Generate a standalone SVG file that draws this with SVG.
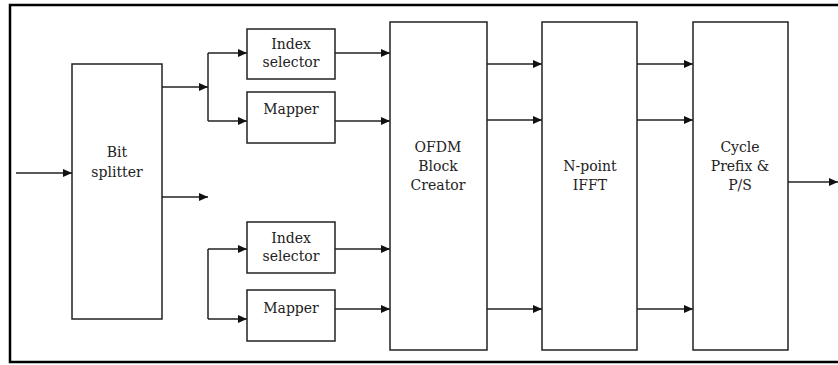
<svg xmlns="http://www.w3.org/2000/svg" width="838" height="365" viewBox="0 0 838 365">
<style>
.b{fill:#fff;stroke:#222;stroke-width:1.5}
.t{font-family:"DejaVu Serif","Liberation Serif",serif;font-size:14px;fill:#222;text-anchor:middle}
.c{fill:none;stroke:#222;stroke-width:1.5}
</style>
<defs>
<marker id="ah" markerWidth="10" markerHeight="8" refX="9" refY="4" orient="auto" markerUnits="userSpaceOnUse">
<path d="M0,0 L9,4 L0,8 Z" fill="#111"/>
</marker>
</defs>
<rect x="0" y="0" width="838" height="365" fill="#fff"/>
<path d="M840,5 H10 V362 H840" fill="none" stroke="#000" stroke-width="2.5"/>
<g id="connectors">
<path class="c" d="M16,173 H72" marker-end="url(#ah)"/>
<path class="c" d="M162,87 H208" marker-end="url(#ah)"/>
<path class="c" d="M162,197 H208" marker-end="url(#ah)"/>
<path class="c" d="M208,53 V121"/>
<path class="c" d="M208,53 H247" marker-end="url(#ah)"/>
<path class="c" d="M208,121 H247" marker-end="url(#ah)"/>
<path class="c" d="M208,249 V319"/>
<path class="c" d="M208,249 H247" marker-end="url(#ah)"/>
<path class="c" d="M208,319 H247" marker-end="url(#ah)"/>
<path class="c" d="M335,53 H390" marker-end="url(#ah)"/>
<path class="c" d="M335,121 H390" marker-end="url(#ah)"/>
<path class="c" d="M335,249 H390" marker-end="url(#ah)"/>
<path class="c" d="M335,309 H390" marker-end="url(#ah)"/>
<path class="c" d="M487,64 H542" marker-end="url(#ah)"/>
<path class="c" d="M487,120 H542" marker-end="url(#ah)"/>
<path class="c" d="M487,309 H542" marker-end="url(#ah)"/>
<path class="c" d="M637,64 H693" marker-end="url(#ah)"/>
<path class="c" d="M637,120 H693" marker-end="url(#ah)"/>
<path class="c" d="M637,309 H693" marker-end="url(#ah)"/>
<path class="c" d="M788,182 H838" marker-end="url(#ah)"/>
</g>
<g id="bit-splitter">
<rect class="b" x="72" y="64" width="90" height="255"/>
<text class="t" x="117" y="157">Bit</text>
<text class="t" x="117" y="177">splitter</text>
</g>
<g id="index-selector-1">
<rect class="b" x="247" y="29" width="88" height="50"/>
<text class="t" x="291" y="49">Index</text>
<text class="t" x="291" y="67">selector</text>
</g>
<g id="mapper-1">
<rect class="b" x="247" y="92" width="88" height="51"/>
<text class="t" x="291" y="114">Mapper</text>
</g>
<g id="index-selector-2">
<rect class="b" x="247" y="222" width="88" height="51"/>
<text class="t" x="291" y="243">Index</text>
<text class="t" x="291" y="261">selector</text>
</g>
<g id="mapper-2">
<rect class="b" x="247" y="290" width="88" height="51"/>
<text class="t" x="291" y="313">Mapper</text>
</g>
<g id="ofdm-block-creator">
<rect class="b" x="390" y="22" width="97" height="328"/>
<text class="t" x="438" y="152">OFDM</text>
<text class="t" x="438" y="171">Block</text>
<text class="t" x="438" y="190">Creator</text>
</g>
<g id="ifft">
<rect class="b" x="542" y="22" width="95" height="328"/>
<text class="t" x="590" y="171">N-point</text>
<text class="t" x="590" y="190">IFFT</text>
</g>
<g id="cyclic-prefix">
<rect class="b" x="693" y="22" width="95" height="328"/>
<text class="t" x="740" y="152">Cycle</text>
<text class="t" x="740" y="171">Prefix &amp;</text>
<text class="t" x="740" y="190">P/S</text>
</g>
</svg>
